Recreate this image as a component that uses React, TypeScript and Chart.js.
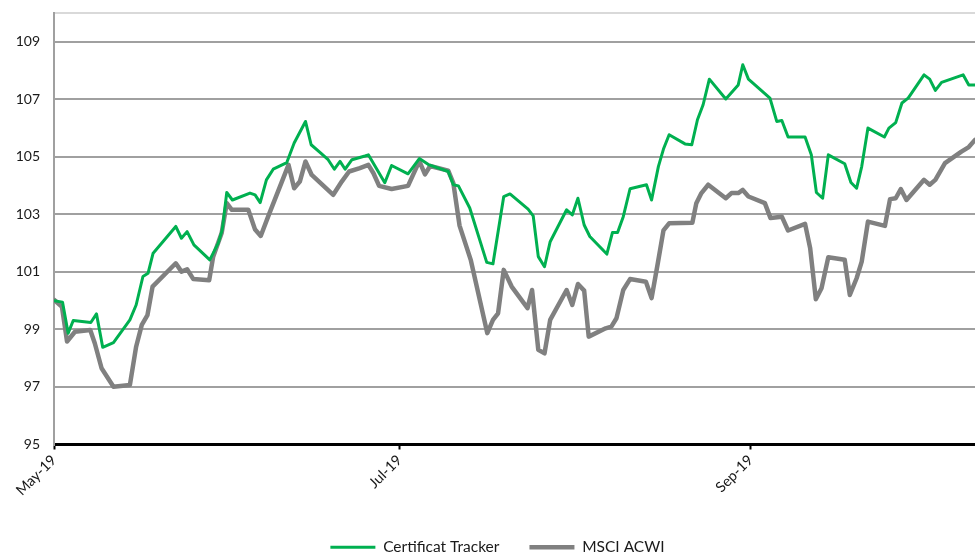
import React, { useEffect, useRef } from 'react';
import { Chart, registerables } from 'chart.js';

Chart.register(...registerables);

// Day offsets from 1 May 2019 for the date axis ticks
const xTickDays = [0, 61, 123];
const xTickLabels = ['May-19', 'Jul-19', 'Sep-19'];
const yTicks = [95, 97, 99, 101, 103, 105, 107, 109];
const seriesNames = ['Certificat Tracker', 'MSCI ACWI'];

// Certificat Tracker (days since 1 May 2019, index level)
const trackerDays = [
  0, 1.5, 2.5, 3.4, 6.5, 7.5, 8.6, 10.5, 13.4, 14.5, 15.7, 16.6, 17.5, 21.5, 22.5, 23.5, 24.7, 27.5, 29.0, 29.7,
  30.5, 31.5, 34.6, 35.5, 36.4, 37.5, 38.7, 41.1, 42.4, 44.4, 45.4, 47.0, 48.4, 49.5, 50.5, 51.4, 52.6, 54.9, 55.5, 58.4,
  59.6, 62.5, 64.5, 66.1, 69.6, 70.5, 71.4, 73.4, 76.4, 77.5, 79.4, 80.5, 83.7, 84.6, 85.5, 86.6, 87.6, 90.5, 91.5, 92.5,
  93.6, 94.6, 97.6, 98.6, 99.5, 100.5, 101.7, 104.6, 105.5, 106.7, 107.6, 108.6, 111.4, 112.6, 113.6, 114.6, 115.7, 118.6, 120.8, 121.6,
  122.6, 126.4, 127.6, 128.5, 129.6, 132.6, 133.7, 134.6, 135.7, 136.7, 139.6, 140.7, 141.7, 142.6, 143.7, 146.6, 147.4, 148.6, 149.7, 150.8,
  153.6, 154.6, 155.6, 156.7, 160.5, 161.5, 162.6,
];
const trackerValues = [
  100.0, 99.95, 98.87, 99.31, 99.24, 99.54, 98.38, 98.54, 99.33, 99.85, 100.84, 100.95, 101.65, 102.58, 102.17, 102.4, 101.94, 101.42, 102.0, 102.46,
  103.76, 103.5, 103.74, 103.68, 103.41, 104.2, 104.57, 104.8, 105.48, 106.23, 105.42, 105.15, 104.9, 104.57, 104.84, 104.57, 104.9, 105.03, 105.07, 104.1,
  104.7, 104.41, 104.94, 104.73, 104.49, 104.03, 103.99, 103.22, 101.33, 101.28, 103.62, 103.71, 103.18, 102.95, 101.53, 101.18, 102.05, 103.16, 102.98, 103.56,
  102.63, 102.23, 101.62, 102.37, 102.37, 102.92, 103.89, 104.03, 103.5, 104.66, 105.27, 105.77, 105.45, 105.42, 106.29, 106.81, 107.7, 107.01, 107.5, 108.2,
  107.7, 107.04, 106.23, 106.26, 105.69, 105.69, 105.07, 103.76, 103.56, 105.07, 104.76, 104.11, 103.91, 104.66, 106.0, 105.69, 106.0, 106.19, 106.87, 107.04,
  107.85, 107.7, 107.31, 107.59, 107.85, 107.5, 107.5,
];

// MSCI ACWI
const acwiDays = [
  0, 1.4, 2.3, 3.7, 6.4, 7.2, 8.4, 10.5, 13.4, 14.5, 15.5, 16.5, 17.4, 21.5, 22.5, 23.5, 24.6, 27.4, 28.1, 29.6,
  30.5, 31.4, 34.3, 35.5, 36.5, 37.8, 41.4, 42.4, 43.4, 44.4, 45.5, 49.3, 50.8, 52.1, 54.0, 55.5, 56.4, 57.4, 59.6, 62.5,
  64.5, 65.5, 66.4, 69.6, 70.5, 71.6, 73.6, 76.5, 77.5, 78.4, 79.4, 80.8, 83.6, 84.4, 85.5, 86.6, 87.6, 90.5, 91.5, 92.5,
  93.6, 94.4, 97.4, 98.4, 99.3, 100.5, 101.7, 104.5, 105.5, 106.6, 107.6, 108.6, 112.7, 113.4, 114.3, 115.5, 118.6, 119.6, 120.8, 121.6,
  122.6, 125.5, 126.5, 128.5, 129.6, 132.6, 133.5, 134.5, 135.5, 136.7, 139.6, 140.5, 141.7, 142.6, 143.7, 146.7, 147.6, 148.6, 149.5, 150.5,
  153.6, 154.6, 155.6, 157.3, 160.2, 161.5, 162.6,
];
const acwiValues = [
  100.03, 99.79, 98.58, 98.92, 98.98, 98.52, 97.65, 97.01, 97.07, 98.4, 99.16, 99.5, 100.49, 101.3, 101.01, 101.09, 100.75, 100.71, 101.53, 102.35,
  103.39, 103.16, 103.16, 102.47, 102.25, 102.92, 104.72, 103.91, 104.14, 104.84, 104.37, 103.68, 104.14, 104.49, 104.61, 104.72, 104.43, 103.99, 103.88, 103.99,
  104.85, 104.39, 104.68, 104.52, 104.09, 102.61, 101.4, 98.87, 99.33, 99.56, 101.07, 100.49, 99.74, 100.37, 98.29, 98.17, 99.33, 100.37, 99.85, 100.58,
  100.35, 98.75, 99.04, 99.1, 99.39, 100.37, 100.75, 100.66, 100.09, 101.3, 102.44, 102.69, 102.71, 103.39, 103.74, 104.03, 103.56, 103.74, 103.74, 103.85,
  103.62, 103.39, 102.87, 102.92, 102.44, 102.67, 101.82, 100.05, 100.43, 101.51, 101.42, 100.2, 100.78, 101.36, 102.75, 102.6, 103.53, 103.56, 103.88, 103.5,
  104.2, 104.03, 104.2, 104.78, 105.18, 105.34, 105.59,
];

const X_MIN = 0;
const X_MAX = 162.6;
const Y_MIN = 95;
const Y_MAX = 110;

const GREEN = '#00B050';
const GREY = '#808080';
const TEXT = '#1a1a1a';
const FONT = 'Lato';

export default function App() {
  const canvasRef = useRef<HTMLCanvasElement | null>(null);

  useEffect(() => {
    const canvas = canvasRef.current;
    if (!canvas) return;
    const chart = new Chart(canvas, {
      type: 'line',
      data: {
        datasets: [
          {
            label: seriesNames[0],
            data: trackerDays.map((d, i) => ({ x: d, y: trackerValues[i] })),
            borderColor: GREEN,
            backgroundColor: GREEN,
            borderWidth: 3,
            pointRadius: 0,
            tension: 0,
            borderJoinStyle: 'round',
            borderCapStyle: 'round',
          },
          {
            label: seriesNames[1],
            data: acwiDays.map((d, i) => ({ x: d, y: acwiValues[i] })),
            borderColor: GREY,
            backgroundColor: GREY,
            borderWidth: 4.5,
            pointRadius: 0,
            tension: 0,
            borderJoinStyle: 'round',
            borderCapStyle: 'round',
          },
        ],
      },
      options: {
        animation: false,
        responsive: false,
        maintainAspectRatio: false,
        layout: { padding: { top: 13, left: 0, right: 0, bottom: 0 } },
        plugins: {
          legend: {
            position: 'bottom',
            labels: {
              usePointStyle: true,
              pointStyle: 'line',
              pointStyleWidth: 45,
              padding: 30,
              color: TEXT,
              font: { family: FONT, size: 15.5 },
            },
          },
          tooltip: { enabled: false },
        },
        scales: {
          x: {
            type: 'linear',
            position: 'bottom',
            min: X_MIN,
            max: X_MAX,
            afterBuildTicks: (s: any) => {
              s.ticks = xTickDays.map((v) => ({ value: v }));
            },
            afterFit: (s: any) => {
              s.height = 65;
              s.paddingRight = 20;
            },
            ticks: {
              autoSkip: false,
              maxRotation: 45,
              minRotation: 45,
              padding: 2,
              color: TEXT,
              font: { family: FONT, size: 14.5 },
              callback: (v: any) => {
                const i = xTickDays.indexOf(Number(v));
                return i >= 0 ? xTickLabels[i] : '';
              },
            },
            grid: {
              drawOnChartArea: false,
              drawTicks: true,
              tickLength: 5,
              tickColor: '#000',
              tickWidth: 2,
            },
            border: { color: '#000', width: 3 },
          },
          x2: {
            type: 'linear',
            position: 'top',
            min: X_MIN,
            max: X_MAX,
            ticks: { display: false },
            grid: { drawOnChartArea: false, drawTicks: false },
            border: { color: '#D9D9D9', width: 2 },
            afterFit: (s: any) => {
              s.height = 0;
              s.paddingRight = 20;
            },
          },
          y: {
            min: Y_MIN,
            max: Y_MAX,
            afterBuildTicks: (s: any) => {
              s.ticks = yTicks.map((v) => ({ value: v }));
            },
            afterFit: (s: any) => {
              s.width = 54;
              s.paddingTop = 0;
              s.paddingBottom = 0;
            },
            ticks: {
              padding: 14,
              color: TEXT,
              font: { family: FONT, size: 14 },
            },
            grid: { color: '#A0A0A0', lineWidth: 2, drawTicks: false },
            border: { color: '#A0A0A0', width: 2 },
          },
        },
      },
    });
    return () => chart.destroy();
  }, []);

  return (
    <div
      style={{
        position: 'fixed',
        left: 0,
        top: 0,
        width: 975,
        height: 555,
        overflow: 'hidden',
        background: '#fff',
      }}
    >
      <canvas ref={canvasRef} width={995} height={565} style={{ display: 'block', width: 995, height: 565 }} />
    </div>
  );
}
